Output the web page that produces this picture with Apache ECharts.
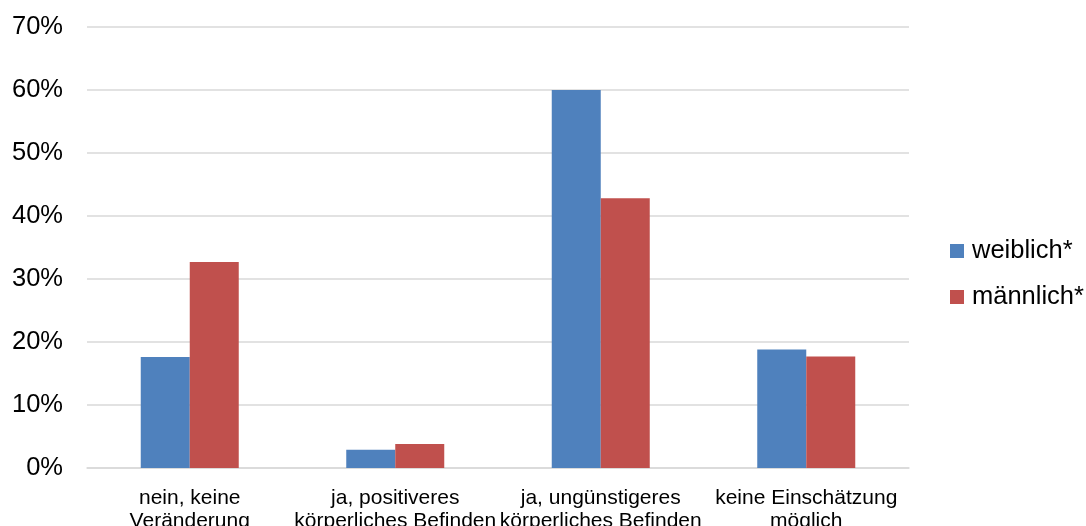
<!DOCTYPE html>
<html>
<head>
<meta charset="utf-8">
<script src="https://cdn.jsdelivr.net/npm/echarts@6/dist/echarts.min.js"></script>
<style>
html,body{margin:0;padding:0;background:#fff;}
#c{width:1086px;height:526px;}
</style>
</head>
<body>
<div id="c"></div>
<script>
const categories = [
  "nein, keine\nVeränderung",
  "ja, positiveres\nkörperliches Befinden",
  "ja, ungünstigeres\nkörperliches Befinden",
  "keine Einschätzung\nmöglich"
];
const weiblich = [17.6, 2.9, 60.0, 18.8];
const maennlich = [32.7, 3.8, 42.8, 17.7];
const seriesNames = ["weiblich*", "männlich*"];

const FONT = "Liberation Sans, Arial, sans-serif";
const chart = echarts.init(document.getElementById('c'));
chart.setOption({
  animation: false,
  backgroundColor: '#ffffff',
  grid: { left: 87, right: 177, top: 27, bottom: 58, containLabel: false, outerBoundsMode: 'none' },
  legend: {
    orient: 'vertical',
    left: 945,
    top: 233,
    itemWidth: 14,
    itemHeight: 14,
    itemGap: 20,
    icon: 'rect',
    textStyle: { fontFamily: FONT, fontSize: 25.5, color: '#000', lineHeight: 26, padding: [0,0,0,3] },
    data: seriesNames
  },
  xAxis: {
    type: 'category',
    data: categories,
    axisTick: { show: false },
    axisLine: { show: true, lineStyle: { color: '#D9D9D9', width: 1.5 } },
    axisLabel: { interval: 0, fontFamily: FONT, fontSize: 21, lineHeight: 23, color: '#000', margin: 19 }
  },
  yAxis: {
    type: 'value',
    min: 0,
    max: 70,
    interval: 10,
    axisLine: { show: false },
    axisTick: { show: false },
    splitLine: { lineStyle: { color: '#D9D9D9', width: 1.5 } },
    axisLabel: { formatter: '{value}%', fontFamily: FONT, fontSize: 25.5, color: '#000', margin: 24 }
  },
  series: [
    { name: seriesNames[0], type: 'bar', data: weiblich, barWidth: 49, barGap: '0%',
      itemStyle: { color: '#4F81BD' } },
    { name: seriesNames[1], type: 'bar', data: maennlich, barWidth: 49, barGap: '0%',
      itemStyle: { color: '#C0504D' } }
  ]
});
</script>
</body>
</html>
